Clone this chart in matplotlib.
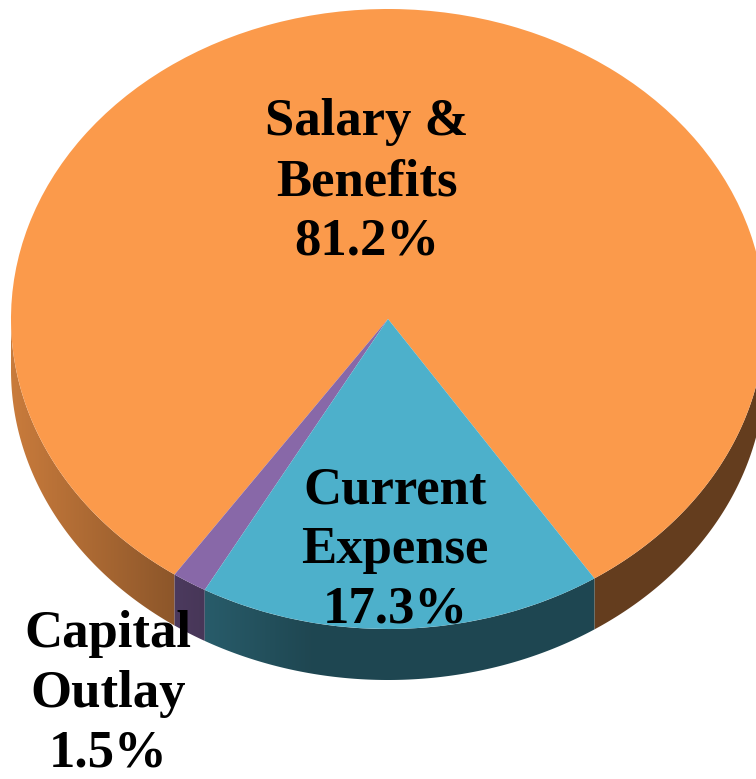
"""
3D looking budget pie chart, saved to out.png
"""
import numpy as np
import matplotlib
matplotlib.use('Agg')
import matplotlib.pyplot as plt
from matplotlib.colors import to_rgb
from matplotlib.patches import Polygon

LABELS = ['Salary &\nBenefits', 'Capital\nOutlay', 'Current\nExpense']
VALUES = [81.2, 1.5, 17.3]
COLORS = ['#FB9A4B', '#8868A8', '#4DB0CB']

# picture layout, in pixels
WIDTH, HEIGHT = 756, 779
CX, CY = 388, 319
RX, RY = 377, 310
DEPTH = 51
START = -56.8
# label centres, in pixels
LABEL_POS = [(367, 182), (108, 694), (395, 550)]

plt.rcParams['font.family'] = ['Liberation Serif', 'DejaVu Serif']


def to_data(x_px, y_px):
    """
    pixel position in the picture to axes data units
    :return: x, y
    """
    return (x_px - CX) / RX, (CY - y_px) / RY


def wall_shade(x_vals):
    """
    darkening of the side wall, going left to right
    :return: multiplier for each x
    """
    return np.interp(x_vals, [-1.0, -0.55, -0.2, 1.0], [0.8, 0.55, 0.4, 0.4])


def draw_wall(axis, first, last, color):
    """
    draws the visible side wall of one slice with a horizontal gradient
    :return: N/A
    """
    first = max(first, 180)
    last = min(last, 360)
    if last <= first:
        return
    theta = np.radians(np.linspace(first, last, 200))
    arc_x = np.cos(theta)
    arc_y = np.sin(theta)
    depth = DEPTH / RY
    outline = np.vstack([np.column_stack([arc_x, arc_y]),
                         np.column_stack([arc_x[::-1], arc_y[::-1] - depth])])
    clip = Polygon(outline, closed=True, transform=axis.transData,
                   facecolor='none', edgecolor='none')
    axis.add_patch(clip)
    x_grid = np.linspace(-1.05, 1.05, 400)
    shades = wall_shade(x_grid)[None, :, None]
    band = shades * np.array(to_rgb(color))[None, None, :]
    image = axis.imshow(band, extent=(-1.05, 1.05, -2, 1), aspect='auto',
                        interpolation='bilinear', zorder=1)
    image.set_clip_path(clip)


def main():
    """
    main program function
    :return: N/A
    """
    fig = plt.figure(figsize=(WIDTH / 100, HEIGHT / 100), dpi=100)
    axis = fig.add_axes([0, 0, 1, 1])

    # side walls first, the top face goes over them
    edges = START + np.cumsum([0] + VALUES) * 3.6
    for i, color in enumerate(COLORS):
        low, high = edges[i], edges[i + 1]
        if low < 0:
            low, high = low + 360, high + 360
        draw_wall(axis, low, high, color)
        # the orange slice runs past 360 degrees, so check the wrapped part
        draw_wall(axis, low - 360, high - 360, color)

    wedges, _ = axis.pie(VALUES, colors=COLORS, startangle=START,
                         counterclock=True, radius=1)
    for wedge in wedges:
        wedge.set_zorder(2)

    axis.set_aspect('auto')
    axis.set_xlim(to_data(0, 0)[0], to_data(WIDTH, 0)[0])
    axis.set_ylim(to_data(0, HEIGHT)[1], to_data(0, 0)[1])
    axis.axis('off')

    for label, value, pos in zip(LABELS, VALUES, LABEL_POS):
        x_pos, y_pos = to_data(*pos)
        axis.text(x_pos, y_pos, f'{label}\n{value}%', ha='center', va='center',
                  fontsize=38, fontweight='bold', color='black',
                  linespacing=1.32, zorder=5)

    fig.savefig('out.png', dpi=100, facecolor='white')


if __name__ == "__main__":
    main()
